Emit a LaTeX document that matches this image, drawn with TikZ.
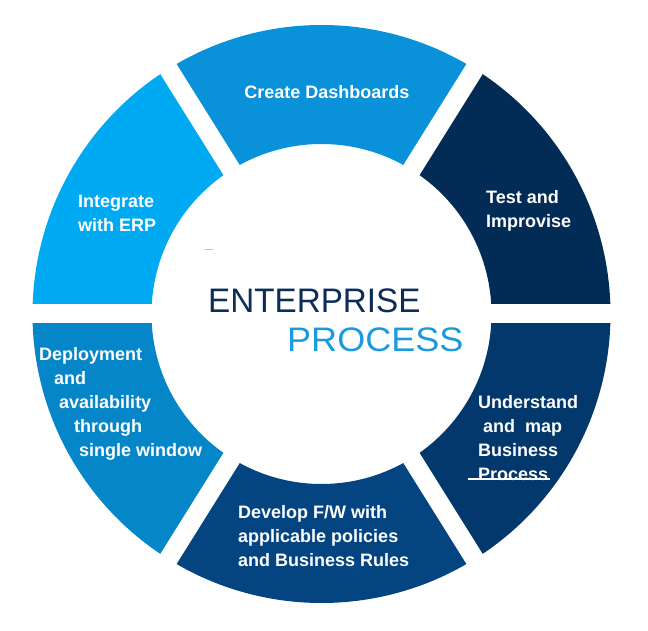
\documentclass[tikz,border=0pt]{standalone}
\usepackage{fontspec}
\usepackage{graphicx}
\setmainfont{Liberation Sans}
\usetikzlibrary{calc}
\definecolor{cCreate}{HTML}{0992D9}
\definecolor{cIntegrate}{HTML}{00AAF2}
\definecolor{cTest}{HTML}{022C55}
\definecolor{cUnder}{HTML}{02386B}
\definecolor{cDevelop}{HTML}{044581}
\definecolor{cDeploy}{HTML}{0586C8}
\definecolor{cEnt}{HTML}{0B2D57}
\definecolor{cProc}{HTML}{1C9ADF}
\tikzset{
  label/.style={text=white, inner sep=0pt, align=left, font=\bfseries\fontsize{18}{24}\selectfont},
  gapline/.style={white, line width=19pt, line cap=butt},
  title/.style={anchor=base west, inner sep=0pt, font=\fontsize{34}{40}\selectfont}
}
\newcommand{\ringseg}[3]{%
  \fill[#1] ($(c)+(#2:289)$) arc[start angle=#2, end angle=#3, radius=289]
    -- ($(c)+(#3:170)$) arc[start angle=#3, end angle=#2, radius=170] -- cycle;}
\begin{document}
\begin{tikzpicture}[x=1pt,y=1pt]
\fill[white] (0,0) rectangle (648,630);
\useasboundingbox (0,0) rectangle (648,630);
\coordinate (c) at (321.5,316);
\ringseg{cTest}{-1}{59}
\ringseg{cCreate}{57}{123}
\ringseg{cIntegrate}{121}{181}
\ringseg{cDeploy}{179}{239}
\ringseg{cDevelop}{237}{303}
\ringseg{cUnder}{301}{361}
\foreach \a in {0,58,122,180,238,302} {\draw[gapline] (c) -- ++(\a:300);}
\node[label, anchor=north] (create) at (327,544.3) {Create Dashboards};
\node[label, anchor=north west] (test) at (486,439.3) {Test and\\Improvise};
\node[label, anchor=north west] (integrate) at (78,435) {Integrate\\with ERP};
\node[label, anchor=north west] (under) at (478,235) {Understand\\\hspace*{5pt}and\ \ map\\Business\\Process};
\node[label, anchor=north west] (develop) at (238,125) {Develop F/W with\\applicable policies\\and Business Rules};
\node[label, anchor=north west] (deploy) at (39,283) {Deployment\\\hspace*{15pt}and\\\hspace*{20pt}availability\\\hspace*{35pt}through\\\hspace*{40pt}single window};
\node[title, text=cEnt] (ent) at (208,317) {\scalebox{0.977}[1]{ENTERPRISE}};
\node[title, text=cProc] (proc) at (287,278) {\scalebox{1.06}[1]{PROCESS}};
\draw[white, line width=1.3pt] (468,151) -- (550,151);
\draw[black!25, line width=0.8pt] (205,381) -- (213,381);
\end{tikzpicture}
\end{document}
